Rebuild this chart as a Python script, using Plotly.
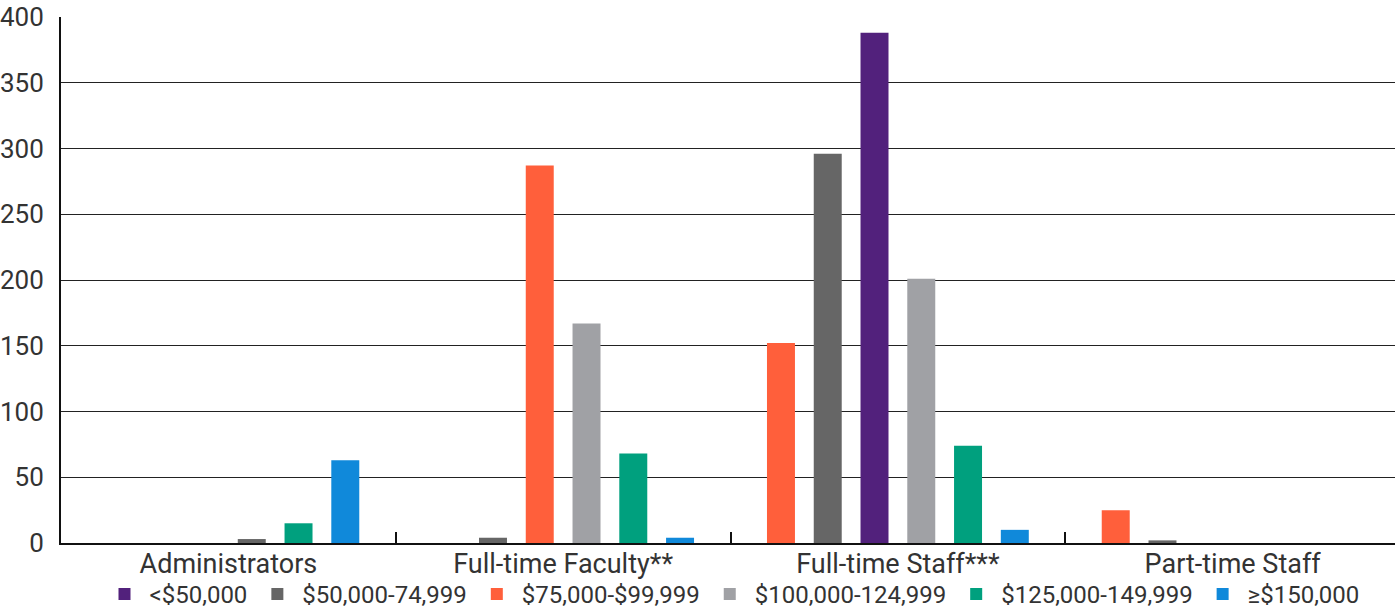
import plotly.graph_objects as go

categories = ["Administrators", "Full-time Faculty**", "Full-time Staff***", "Part-time Staff"]
series_names = ["<$50,000", "$50,000-74,999", "$75,000-$99,999", "$100,000-124,999", "$125,000-149,999", "≥$150,000"]
colors = ["#52217C", "#666666", "#FF5F3B", "#A0A1A5", "#00A07E", "#1089DA"]

v_lt50 = [None, None, 388, None]
v_50_75 = [3, 4, 296, 2]
v_75_100 = [None, 287, 152, 25]
v_100_125 = [None, 167, 201, None]
v_125_150 = [15, 68, 74, None]
v_150 = [63, 4, 10, None]
values = [v_lt50, v_50_75, v_75_100, v_100_125, v_125_150, v_150]

# slot (0..5) each bar occupies inside its category group
s_lt50 = [None, None, 2, None]
s_50_75 = [3, 1, 1, 1]
s_75_100 = [None, 2, 0, 0]
s_100_125 = [None, 3, 3, None]
s_125_150 = [4, 4, 4, None]
s_150 = [5, 5, 5, None]
slots = [s_lt50, s_50_75, s_75_100, s_100_125, s_125_150, s_150]

SLOT_W = 46.8 / 335
BAR_W = 28 / 335
FONT = "Roboto"
TXT = "#333333"

fig = go.Figure()
for name, col, vals, sl in zip(series_names, colors, values, slots):
    offs = [((k if k is not None else 0) - 2.5) * SLOT_W - BAR_W / 2 for k in sl]
    fig.add_trace(go.Bar(
        x=categories, y=vals, name=name, marker=dict(color=col, line=dict(width=0)),
        width=BAR_W, offset=offs,
    ))

fig.update_layout(
    width=1395, height=611,
    margin=dict(l=61, r=0, t=17, b=68, autoexpand=False),
    barmode="overlay",
    plot_bgcolor="white", paper_bgcolor="white",
    font=dict(family=FONT, size=24, color=TXT),
    showlegend=True,
    legend=dict(orientation="h", x=0.503, xanchor="center",
                yref="container", y=0.027, yanchor="middle",
                font=dict(family=FONT, size=24, color=TXT), itemwidth=40,
                bgcolor="rgba(0,0,0,0)"),
    xaxis=dict(
        type="category", range=[-0.5, 3.485],
        showline=True, linecolor="#111111", linewidth=2,
        ticks="inside", tickson="boundaries", ticklen=11, tickwidth=2, tickcolor="#111111",
        showgrid=False, tickfont=dict(family=FONT, size=27, color=TXT),
        ticklabelstandoff=-4, fixedrange=True,
    ),
    yaxis=dict(
        range=[0, 400], dtick=50, tick0=0,
        showline=True, linecolor="#111111", linewidth=2,
        showgrid=True, gridcolor="#222222", gridwidth=1,
        zeroline=False, ticks="", ticklabelstandoff=10,
        tickfont=dict(family=FONT, size=26, color=TXT),
    ),
)

fig.write_html("out.html")
